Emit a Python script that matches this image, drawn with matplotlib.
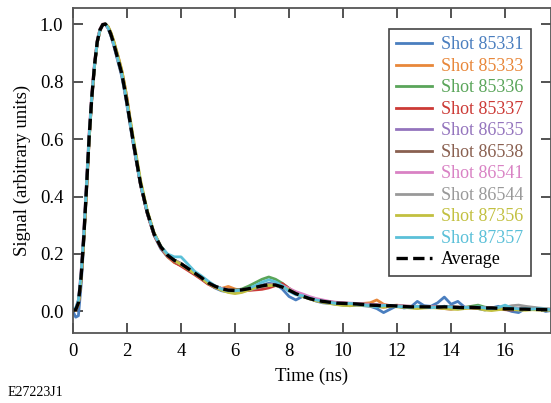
"""Normalized signal vs time for several shots plus their average."""
import matplotlib
matplotlib.use("Agg")
import matplotlib.pyplot as plt

plt.rcParams["font.family"] = ["Liberation Serif", "DejaVu Serif"]
plt.rcParams["mathtext.fontset"] = "stix"

# time grid (ns): fine on the rise, coarser in the tail
TIME = [
    0.0, 0.1, 0.2, 0.3, 0.4, 0.5, 0.6, 0.7, 0.8, 0.9, 1.0,
    1.1, 1.2, 1.3, 1.4, 1.5, 1.6, 1.7, 1.8, 1.9, 2.0,
    2.25, 2.5, 2.75, 3.0, 3.25, 3.5, 3.75, 4.0, 4.25, 4.5, 4.75,
    5.0, 5.25, 5.5, 5.75, 6.0, 6.25, 6.5, 6.75, 7.0, 7.25, 7.5, 7.75,
    8.0, 8.25, 8.5, 8.75, 9.0, 9.25, 9.5, 9.75, 10.0, 10.25, 10.5, 10.75,
    11.0, 11.25, 11.5, 11.75, 12.0, 12.25, 12.5, 12.75, 13.0, 13.25, 13.5, 13.75,
    14.0, 14.25, 14.5, 14.75, 15.0, 15.25, 15.5, 15.75, 16.0, 16.25, 16.5, 16.75,
    17.0, 17.25, 17.5, 17.75,
]

SHOTS = ["85331", "85333", "85336", "85337", "86535",
         "86538", "86541", "86544", "87356", "87357"]

shot_85331 = [
    0.0, -0.02, -0.015, 0.09, 0.24, 0.42, 0.6, 0.745, 0.855, 0.935, 0.978,
    0.997, 1.0, 0.985, 0.96, 0.928, 0.892, 0.856, 0.82, 0.77, 0.715,
    0.57, 0.44, 0.34, 0.265, 0.218, 0.19, 0.172, 0.16, 0.146, 0.13, 0.115,
    0.097, 0.082, 0.072, 0.068, 0.07, 0.074, 0.08, 0.086, 0.092, 0.098, 0.095, 0.078,
    0.052, 0.04, 0.052, 0.045, 0.036, 0.03, 0.028, 0.025, 0.022, 0.02, 0.022, 0.02,
    0.018, 0.01, -0.004, 0.008, 0.02, 0.012, 0.015, 0.035, 0.02, 0.018, 0.03, 0.05,
    0.025, 0.035, 0.015, 0.012, 0.01, 0.005, 0.012, 0.018, 0.008, 0.0, -0.004, 0.01,
    0.012, 0.01, 0.0, 0.004,
]
shot_85333 = [
    0.005, 0.008, 0.035, 0.125, 0.265, 0.435, 0.615, 0.755, 0.862, 0.942, 0.982,
    0.999, 1.0, 0.987, 0.963, 0.933, 0.898, 0.862, 0.828, 0.778, 0.722,
    0.577, 0.443, 0.343, 0.268, 0.222, 0.19, 0.17, 0.16, 0.148, 0.133, 0.118,
    0.1, 0.085, 0.08, 0.087, 0.078, 0.073, 0.077, 0.082, 0.087, 0.09, 0.09, 0.088,
    0.078, 0.066, 0.057, 0.047, 0.04, 0.036, 0.033, 0.03, 0.029, 0.028, 0.027, 0.028,
    0.03, 0.04, 0.025, 0.02, 0.022, 0.018, 0.016, 0.018, 0.014, 0.015, 0.017, 0.014,
    0.013, 0.015, 0.012, 0.016, 0.014, 0.012, 0.013, 0.01, 0.01, 0.008, 0.009, 0.007,
    0.008, 0.006, 0.007, 0.005,
]
shot_85336 = [
    0.003, 0.005, 0.028, 0.115, 0.255, 0.425, 0.605, 0.748, 0.858, 0.938, 0.979,
    0.998, 1.0, 0.99, 0.968, 0.94, 0.905, 0.87, 0.835, 0.785, 0.73,
    0.585, 0.45, 0.348, 0.272, 0.226, 0.197, 0.178, 0.165, 0.15, 0.135, 0.118,
    0.1, 0.088, 0.079, 0.074, 0.074, 0.078, 0.088, 0.1, 0.112, 0.12, 0.112, 0.098,
    0.08, 0.064, 0.054, 0.046, 0.04, 0.036, 0.033, 0.031, 0.029, 0.027, 0.027, 0.025,
    0.024, 0.022, 0.02, 0.021, 0.019, 0.018, 0.017, 0.016, 0.018, 0.016, 0.014, 0.015,
    0.016, 0.013, 0.014, 0.018, 0.022, 0.015, 0.012, 0.011, 0.01, 0.009, 0.007, 0.009,
    0.007, 0.008, 0.006, 0.007,
]
shot_85337 = [
    0.002, 0.004, 0.025, 0.11, 0.25, 0.42, 0.6, 0.745, 0.855, 0.935, 0.978,
    0.997, 1.0, 0.99, 0.97, 0.942, 0.91, 0.876, 0.84, 0.795, 0.742,
    0.575, 0.44, 0.34, 0.266, 0.222, 0.193, 0.172, 0.158, 0.143, 0.128, 0.112,
    0.095, 0.084, 0.076, 0.072, 0.07, 0.071, 0.073, 0.075, 0.077, 0.082, 0.09, 0.097,
    0.08, 0.063, 0.055, 0.046, 0.038, 0.034, 0.03, 0.028, 0.026, 0.024, 0.025, 0.023,
    0.02, 0.018, 0.015, 0.018, 0.017, 0.015, 0.014, 0.012, 0.016, 0.015, 0.013, 0.01,
    0.008, 0.012, 0.014, 0.012, 0.01, 0.011, 0.013, 0.01, 0.006, 0.005, 0.008, 0.007,
    0.012, 0.01, 0.008, 0.007,
]
shot_86535 = [
    0.004, 0.006, 0.03, 0.118, 0.258, 0.428, 0.608, 0.75, 0.86, 0.94, 0.98,
    0.998, 1.0, 0.988, 0.965, 0.935, 0.9, 0.865, 0.83, 0.78, 0.725,
    0.58, 0.445, 0.344, 0.27, 0.225, 0.195, 0.176, 0.164, 0.149, 0.133, 0.117,
    0.1, 0.088, 0.078, 0.072, 0.068, 0.07, 0.075, 0.08, 0.086, 0.09, 0.09, 0.085,
    0.075, 0.063, 0.054, 0.046, 0.04, 0.036, 0.033, 0.03, 0.029, 0.028, 0.027, 0.025,
    0.024, 0.022, 0.02, 0.021, 0.02, 0.018, 0.017, 0.016, 0.018, 0.017, 0.016, 0.018,
    0.016, 0.014, 0.012, 0.014, 0.013, 0.012, 0.013, 0.011, 0.01, 0.011, 0.009, 0.008,
    0.009, 0.007, 0.006, 0.006,
]
shot_86538 = [
    0.005, 0.007, 0.032, 0.122, 0.262, 0.432, 0.612, 0.752, 0.861, 0.941, 0.981,
    0.999, 1.0, 0.988, 0.966, 0.936, 0.902, 0.867, 0.832, 0.782, 0.728,
    0.582, 0.447, 0.346, 0.271, 0.226, 0.197, 0.179, 0.167, 0.151, 0.135, 0.119,
    0.101, 0.089, 0.08, 0.075, 0.074, 0.076, 0.08, 0.085, 0.09, 0.094, 0.094, 0.087,
    0.076, 0.064, 0.055, 0.047, 0.04, 0.036, 0.033, 0.03, 0.029, 0.028, 0.027, 0.026,
    0.024, 0.023, 0.021, 0.02, 0.021, 0.019, 0.018, 0.017, 0.017, 0.016, 0.017, 0.015,
    0.016, 0.015, 0.014, 0.015, 0.014, 0.013, 0.013, 0.012, 0.011, 0.01, 0.01, 0.009,
    0.008, 0.008, 0.007, 0.007,
]
shot_86541 = [
    0.006, 0.01, 0.04, 0.14, 0.285, 0.455, 0.63, 0.765, 0.87, 0.946, 0.984,
    1.0, 0.998, 0.985, 0.962, 0.932, 0.898, 0.862, 0.828, 0.778, 0.724,
    0.58, 0.446, 0.346, 0.272, 0.226, 0.196, 0.177, 0.165, 0.15, 0.134, 0.118,
    0.1, 0.088, 0.08, 0.076, 0.072, 0.074, 0.078, 0.083, 0.088, 0.092, 0.094, 0.09,
    0.08, 0.069, 0.061, 0.052, 0.045, 0.04, 0.035, 0.032, 0.03, 0.029, 0.028, 0.026,
    0.025, 0.023, 0.022, 0.021, 0.02, 0.019, 0.018, 0.017, 0.016, 0.017, 0.016, 0.01,
    0.014, 0.013, 0.015, 0.013, 0.014, 0.012, 0.011, 0.012, 0.01, 0.009, 0.01, 0.008,
    0.009, 0.008, 0.007, 0.006,
]
shot_86544 = [
    0.004, 0.006, 0.03, 0.12, 0.26, 0.43, 0.61, 0.75, 0.86, 0.94, 0.98,
    0.998, 1.0, 0.988, 0.965, 0.935, 0.9, 0.865, 0.83, 0.78, 0.725,
    0.58, 0.445, 0.345, 0.27, 0.225, 0.196, 0.178, 0.166, 0.15, 0.134, 0.118,
    0.1, 0.088, 0.079, 0.074, 0.073, 0.075, 0.079, 0.084, 0.089, 0.093, 0.092, 0.085,
    0.074, 0.062, 0.053, 0.045, 0.039, 0.035, 0.032, 0.029, 0.028, 0.027, 0.026, 0.024,
    0.022, 0.021, 0.019, 0.02, 0.019, 0.017, 0.016, 0.016, 0.016, 0.016, 0.015, 0.016,
    0.015, 0.014, 0.013, 0.014, 0.013, 0.012, 0.012, 0.013, 0.015, 0.02, 0.022, 0.018,
    0.015, 0.012, 0.01, 0.008,
]
shot_87356 = [
    0.003, 0.005, 0.026, 0.112, 0.25, 0.42, 0.6, 0.745, 0.856, 0.937, 0.979,
    0.998, 1.0, 0.992, 0.972, 0.945, 0.912, 0.878, 0.843, 0.795, 0.74,
    0.595, 0.458, 0.352, 0.275, 0.228, 0.197, 0.177, 0.163, 0.148, 0.132, 0.116,
    0.098, 0.085, 0.074, 0.066, 0.062, 0.066, 0.074, 0.082, 0.088, 0.09, 0.09, 0.086,
    0.076, 0.062, 0.052, 0.044, 0.037, 0.032, 0.028, 0.024, 0.021, 0.02, 0.022, 0.021,
    0.019, 0.017, 0.015, 0.018, 0.016, 0.014, 0.012, 0.01, 0.012, 0.013, 0.012, 0.01,
    0.008, 0.007, 0.01, 0.012, 0.01, 0.005, 0.003, 0.006, 0.008, 0.007, 0.005, 0.004,
    0.006, 0.005, 0.004, 0.005,
]
shot_87357 = [
    0.01, 0.012, 0.04, 0.13, 0.27, 0.44, 0.615, 0.752, 0.86, 0.94, 0.98,
    0.998, 1.0, 0.986, 0.962, 0.932, 0.898, 0.863, 0.828, 0.778, 0.722,
    0.578, 0.443, 0.344, 0.27, 0.227, 0.2, 0.19, 0.19, 0.165, 0.14, 0.124,
    0.106, 0.09, 0.078, 0.072, 0.072, 0.074, 0.08, 0.09, 0.102, 0.11, 0.103, 0.09,
    0.07, 0.058, 0.055, 0.047, 0.04, 0.036, 0.031, 0.028, 0.027, 0.028, 0.025, 0.022,
    0.02, 0.016, 0.021, 0.02, 0.017, 0.016, 0.014, 0.018, 0.016, 0.013, 0.015, 0.018,
    0.015, 0.012, 0.014, 0.013, 0.016, 0.012, 0.01, 0.014, 0.022, 0.012, 0.009, 0.01,
    0.008, 0.01, 0.008, 0.006,
]

average = [
    0.004, 0.006, 0.03, 0.12, 0.26, 0.43, 0.61, 0.75, 0.86, 0.94, 0.98,
    0.998, 1.0, 0.988, 0.965, 0.935, 0.9, 0.865, 0.83, 0.78, 0.725,
    0.58, 0.445, 0.345, 0.27, 0.225, 0.196, 0.178, 0.166, 0.15, 0.134, 0.118,
    0.1, 0.088, 0.079, 0.074, 0.073, 0.075, 0.079, 0.084, 0.089, 0.093, 0.092, 0.085,
    0.074, 0.062, 0.053, 0.045, 0.039, 0.035, 0.032, 0.029, 0.028, 0.027, 0.026, 0.024,
    0.022, 0.021, 0.019, 0.02, 0.019, 0.017, 0.016, 0.016, 0.016, 0.016, 0.015, 0.016,
    0.015, 0.014, 0.013, 0.014, 0.013, 0.012, 0.012, 0.011, 0.009, 0.009, 0.008, 0.008,
    0.007, 0.007, 0.006, 0.006,
]

SHOT_DATA = [shot_85331, shot_85333, shot_85336, shot_85337, shot_86535,
             shot_86538, shot_86541, shot_86544, shot_87356, shot_87357]
# slightly softened tab10
COLORS = ["#4a7ebf", "#e8873a", "#5aa55a", "#cc3a36", "#9474bd",
          "#8a6050", "#d982c4", "#999999", "#c2c040", "#5bc0d8"]

fig = plt.figure(figsize=(5.51, 4.03), dpi=100)
ax = fig.add_axes([73 / 551, 1 - 333 / 403, 1 - 73 / 551, (333 - 8) / 403])

for name, vals, col in zip(SHOTS, SHOT_DATA, COLORS):
    ax.plot(TIME, vals, color=col, lw=2.0, label=f"Shot {name}")
ax.plot(TIME, average, color="black", lw=2.4, ls=(0, (3.4, 1.6)), label="Average")

ax.set_xlim(0, 17.7)
ax.set_ylim(-0.075, 1.056)
ax.set_xticks(range(0, 17, 2))
ax.set_yticks([0.0, 0.2, 0.4, 0.6, 0.8, 1.0])
ax.set_yticklabels(["0.0", "0.2", "0.4", "0.6", "0.8", "1.0"])
ax.tick_params(direction="in", length=7, width=1.3, color="#444444",
               top=True, right=True, labelsize=13.5, pad=7)
for sp in ax.spines.values():
    sp.set_color("#555555")
    sp.set_linewidth(1.3)

ax.set_xlabel("Time (ns)", fontsize=13.5, labelpad=6)
ax.set_ylabel("Signal (arbitrary units)", fontsize=13.5, labelpad=6)

leg = ax.legend(loc="upper right", bbox_to_anchor=(0.958, 0.935), fontsize=13,
                frameon=True, fancybox=False, framealpha=1, edgecolor="#444444",
                labelspacing=0.25, handlelength=2.0, handletextpad=0.5,
                borderpad=0.4, borderaxespad=0)
leg.get_frame().set_linewidth(1.2)
for txt, line in zip(leg.get_texts(), leg.get_lines()):
    txt.set_color(line.get_color())

fig.text(8 / 551, 1 - 392 / 403, "E27223J1", fontsize=10, va="center", ha="left")

fig.savefig("out.png", dpi=100)
